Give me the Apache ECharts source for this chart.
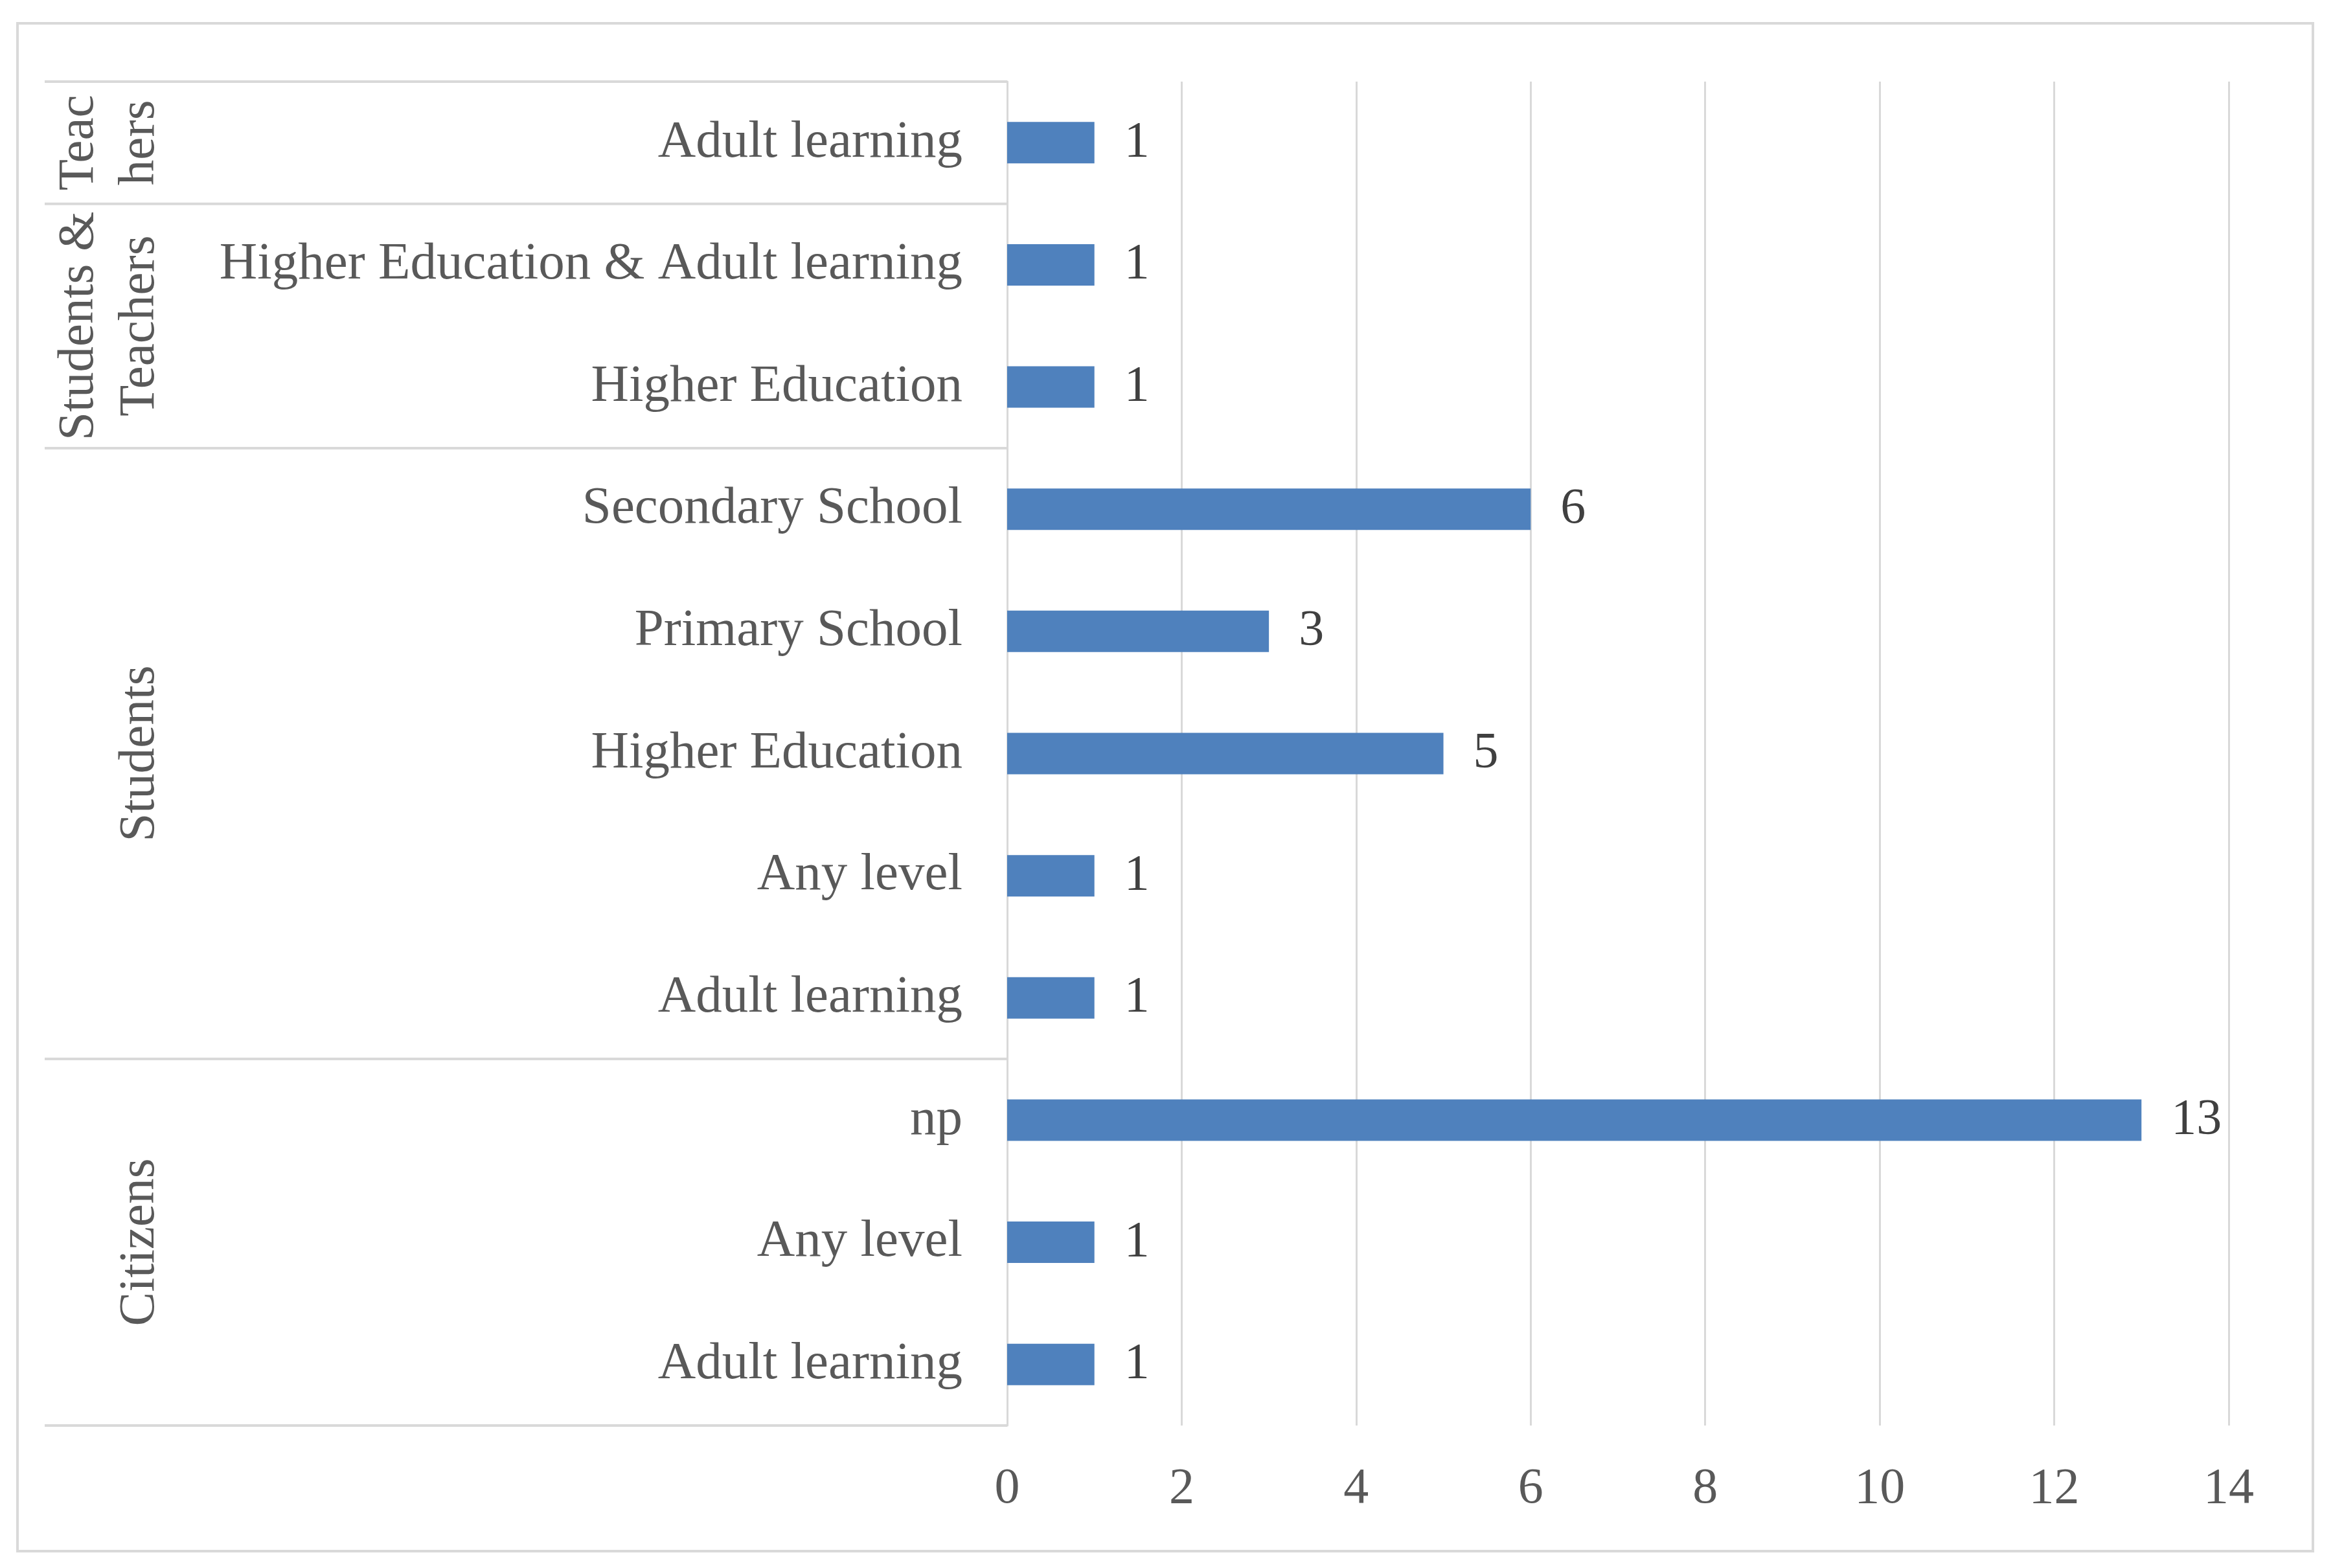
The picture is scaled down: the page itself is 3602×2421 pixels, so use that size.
<!DOCTYPE html>
<html><head><meta charset="utf-8">
<script src="https://cdn.jsdelivr.net/npm/echarts@6/dist/echarts.min.js"></script>
<style>html,body{margin:0;padding:0;background:#fff}#c{width:3602px;height:2421px}</style>
</head><body><div id="c"></div>
<script>
// ---- data ----
const categories = ['Adult learning','Higher Education & Adult learning','Higher Education','Secondary School','Primary School','Higher Education','Any level','Adult learning','np','Any level','Adult learning'];
const values = [1,1,1,6,3,5,1,1,13,1,1];
const groupLabels = ['Teac\nhers','Students &\nTeachers','Students','Citizens'];
const groupSizes = [1,2,5,3];
const xTicks = {min:0, max:14, interval:2};

const FONT = '"Liberation Serif", "DejaVu Serif", serif';
const GREY = '#d9d9d9';
const chart = echarts.init(document.getElementById('c'));
chart.setOption({
  animation:false,
  backgroundColor:'#fff',
  grid:{left:1555, right:161, top:126, bottom:220},
  xAxis:{type:'value', min:xTicks.min, max:xTicks.max, interval:xTicks.interval,
    axisLine:{show:false}, axisTick:{show:false},
    splitLine:{lineStyle:{color:GREY, width:3}},
    axisLabel:{fontFamily:FONT, fontSize:78, color:'#595959', margin:60}},
  yAxis:{type:'category', inverse:true, data:categories,
    axisLine:{lineStyle:{color:GREY, width:3}}, axisTick:{show:false},
    axisLabel:{fontFamily:FONT, fontSize:81, color:'#595959', margin:69, padding:[8,0,0,0]}},
  series:[{type:'bar', data:values, barWidth:64, itemStyle:{color:'#4F81BD'},
    label:{show:true, position:'right', distance:46, fontFamily:FONT, fontSize:78, color:'#404040', padding:[8,0,0,0]}}]
});

// group separators and labels, positioned through the category axis
const cy = i => chart.convertToPixel({yAxisIndex:0}, i);
const band = cy(1) - cy(0);
const axisX = chart.convertToPixel({xAxisIndex:0}, 0);
const elems = [];
elems.push({type:'rect', shape:{x:27, y:36, width:3544, height:2359}, style:{fill:null, stroke:GREY, lineWidth:4}, z:1});
let start = 0;
const topY = cy(0) - band/2;
elems.push({type:'line', shape:{x1:69, y1:topY, x2:axisX, y2:topY}, style:{stroke:GREY, lineWidth:4}, z:5});
groupLabels.forEach((g, k) => {
  const size = groupSizes[k];
  const y0 = cy(start) - band/2;
  const y1 = cy(start + size - 1) + band/2;
  elems.push({type:'line', shape:{x1:69, y1:y1, x2:axisX, y2:y1}, style:{stroke:GREY, lineWidth:4}, z:5});
  const nLines = g.split('\n').length;
  elems.push({type:'text', x:216 - (nLines-1)*47, y:(y0+y1)/2, rotation:Math.PI/2,
    style:{text:g, fontFamily:FONT, fontSize:79, fill:'#595959', align:'center', verticalAlign:'middle', lineHeight:94}, z:5});
  start += size;
});
chart.setOption({graphic:elems});
</script></body></html>
